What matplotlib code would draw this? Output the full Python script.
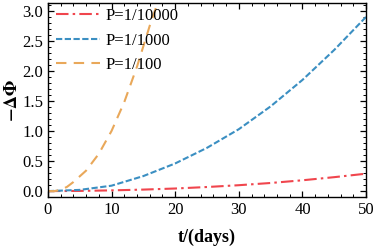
import numpy as np
import matplotlib.pyplot as plt
from matplotlib.ticker import MultipleLocator

plt.rcParams['font.family'] = ['Liberation Serif', 'DejaVu Serif']
plt.rcParams['mathtext.fontset'] = 'stix'

# Data
t_1e4 = [0, 5, 10, 15, 20, 25, 30, 35, 40, 45, 50]
phi_1e4 = [0.0, 0.003, 0.012, 0.025, 0.043, 0.068, 0.098, 0.135, 0.180, 0.232, 0.290]

t_1e3 = [0, 5, 10, 15, 20, 25, 30, 35, 40, 45, 50]
phi_1e3 = [0.0, 0.02, 0.09, 0.25, 0.46, 0.72, 1.03, 1.41, 1.85, 2.35, 2.90]

t_1e2 = [0, 1, 2, 3, 4, 6, 8, 10, 12, 14, 16, 17.2]
phi_1e2 = [0.0, 0.0, 0.02, 0.07, 0.15, 0.34, 0.62, 1.0, 1.48, 2.07, 2.75, 3.12]

labels = ['P=1/10000', 'P=1/1000', 'P=1/100']

fig = plt.figure(figsize=(3.74, 2.47), dpi=100)
ax = fig.add_axes([0.128, 0.202, 0.851, 0.786])

ax.plot(t_1e4, phi_1e4, color='#f0454d', lw=1.5, dashes=(6, 2, 1.2, 2), label=labels[0])
ax.plot(t_1e3, phi_1e3, color='#3b8fc2', lw=1.5, dashes=(3, 1.2), label=labels[1])
ax.plot(t_1e2, phi_1e2, color='#e9a85a', lw=1.5, dashes=(5, 3.5), label=labels[2])

ax.set_xlim(0, 50)
ax.set_ylim(-0.1, 3.13)
ax.xaxis.set_major_locator(MultipleLocator(10))
ax.xaxis.set_minor_locator(MultipleLocator(2))
ax.yaxis.set_major_locator(MultipleLocator(0.5))
ax.yaxis.set_minor_locator(MultipleLocator(0.1))
ax.yaxis.set_major_formatter(plt.FuncFormatter(lambda v, p: f'{v:.1f}'))
ax.tick_params(which='both', direction='in', top=True, right=True, labelsize=12)
ax.tick_params(which='major', length=4, width=0.9)
ax.tick_params(which='minor', length=2.5, width=0.7)
for s in ax.spines.values():
    s.set_linewidth(1.0)

ax.set_xlabel('t/(days)', fontsize=13, fontweight='bold', labelpad=8)
ax.set_ylabel(r'$\mathbf{-\Delta\Phi}$', fontsize=13, labelpad=1)

ax.legend(loc='upper left', frameon=False, fontsize=12, handlelength=2.6,
          borderaxespad=0.0, labelspacing=0.5, handletextpad=0.35,
          borderpad=0.2, bbox_to_anchor=(0.016, 0.99))

fig.savefig('out.png', dpi=100)
